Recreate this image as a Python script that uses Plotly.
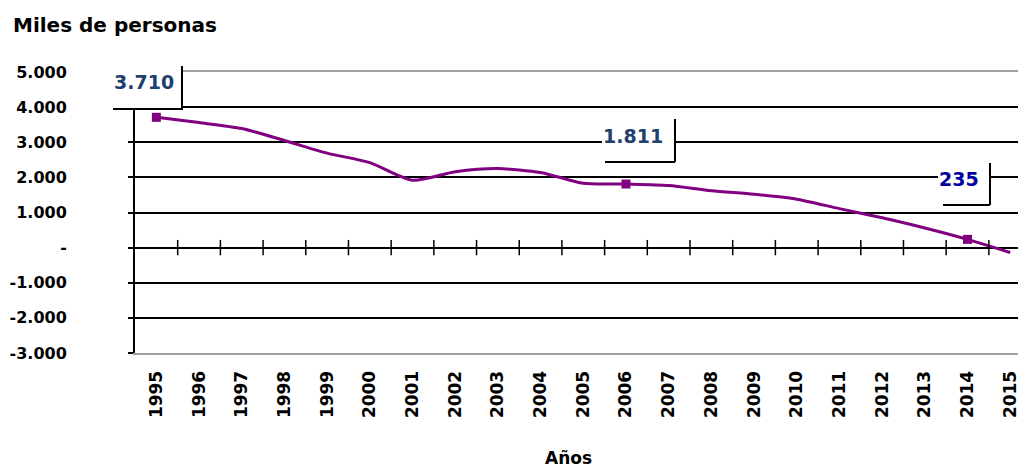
import plotly.graph_objects as go

# datos (miles de personas)
anios = [str(a) for a in range(1995, 2016)]
valores = [3710, 3560, 3390, 3050, 2690, 2420, 1920, 2160, 2250, 2140, 1830,
           1811, 1770, 1620, 1520, 1380, 1110, 850, 560, 235, -140]
etiquetas_idx = [0, 11, 19]
etiquetas_txt = ["3.710", "1.811", "235"]
etiquetas_color = ["#1F3F6F", "#1F3F6F", "#0000A0"]
y_ticks = [-3000, -2000, -1000, 0, 1000, 2000, 3000, 4000, 5000]
y_ticktext = ["-3.000", "-2.000", "-1.000", "-", "1.000", "2.000", "3.000", "4.000", "5.000"]

FONT = "DejaVu Sans"
morado = "#800080"
x = list(range(len(anios)))

# la pagina tiene 8px de margen en el body: se compensa en el tamaño
W, H = 1018, 465

fig = go.Figure()

# linea suavizada
fig.add_trace(go.Scatter(
    x=x, y=valores, mode="lines",
    line=dict(color=morado, width=3, shape="spline", smoothing=0.7),
    hoverinfo="skip", showlegend=False,
))

# marcadores en los puntos etiquetados
fig.add_trace(go.Scatter(
    x=[x[i] for i in etiquetas_idx], y=[valores[i] for i in etiquetas_idx],
    mode="markers", marker=dict(symbol="square", size=9, color=morado),
    showlegend=False,
))

# marcas sobre el eje cero, entre categorias
fig.add_trace(go.Scatter(
    x=[k + 0.5 for k in range(len(anios) - 1)], y=[0] * (len(anios) - 1),
    mode="markers",
    marker=dict(symbol="line-ns", size=11, line=dict(width=1.5, color="black")),
    hoverinfo="skip", showlegend=False,
))

# cajas de etiquetas: (dx, dy, ancho, alto) caja, texto, borde derecho, borde inferior
cajas = [
    dict(box=(-8, 29.5, 68, 43), txt=(-12, 35), der=(26, 29.5, 43), inf=(-8, 8, 70)),
    dict(box=(12.5, 43.5, 73, 43), txt=(7, 48), der=(49, 43.5, 43), inf=(14, 22, 70)),
    dict(box=(-4, 55, 52, 42), txt=(-9, 60), der=(22, 55, 42), inf=(-1.5, 34, 47)),
]

anotaciones = []
for i, t, c, cj in zip(etiquetas_idx, etiquetas_txt, etiquetas_color, cajas):
    px_, py_ = x[i], valores[i]
    bx, by, bw, bh = cj["box"]
    anotaciones.append(dict(x=px_, y=py_, xref="x", yref="y", text=" ", showarrow=False,
                            xshift=bx, yshift=by, width=bw, height=bh, bgcolor="white",
                            borderpad=0, borderwidth=0, font=dict(size=2)))
    tx, ty = cj["txt"]
    anotaciones.append(dict(x=px_, y=py_, xref="x", yref="y", text="<b>%s</b>" % t,
                            showarrow=False, xshift=tx, yshift=ty,
                            font=dict(family=FONT, size=19, color=c)))
    rx, ry, rh = cj["der"]
    anotaciones.append(dict(x=px_, y=py_, xref="x", yref="y", text=" ", showarrow=False,
                            xshift=rx, yshift=ry, width=2, height=rh, bgcolor="black",
                            borderpad=0, borderwidth=0, font=dict(size=2)))
    ix, iy, iw = cj["inf"]
    anotaciones.append(dict(x=px_, y=py_, xref="x", yref="y", text=" ", showarrow=False,
                            xshift=ix, yshift=iy, width=iw, height=2, bgcolor="black",
                            borderpad=0, borderwidth=0, font=dict(size=2)))

anotaciones.append(dict(x=0.487, y=-0.375, xref="paper", yref="paper", text="<b>Años</b>",
                        xanchor="center", yanchor="middle", showarrow=False,
                        font=dict(family=FONT, size=17, color="black")))

fig.update_layout(
    width=W, height=H,
    margin=dict(l=127, r=0, t=64, b=120),
    paper_bgcolor="white", plot_bgcolor="white",
    title=dict(text="<b>Miles de personas</b>", xref="container", yref="container",
               x=5 / W, xanchor="left", y=1 - 17 / H, yanchor="middle",
               font=dict(family=FONT, size=20, color="black")),
    annotations=anotaciones,
    showlegend=False,
)

fig.update_xaxes(
    range=[-0.5, 20.37], tickmode="array", tickvals=x, ticktext=["<b>%s</b>" % a for a in anios],
    tickangle=-90, ticks="", showgrid=False, zeroline=False,
    showline=True, linecolor="#A0A0A0", linewidth=2, mirror=True,
    ticklabelstandoff=9, tickfont=dict(family=FONT, size=17, color="black"),
)

fig.update_yaxes(
    range=[-3000, 5000], tickmode="array", tickvals=y_ticks,
    ticktext=["<b>%s</b>" % t for t in y_ticktext],
    showgrid=True, gridcolor="black", gridwidth=1.5,
    zeroline=True, zerolinecolor="black", zerolinewidth=2,
    showline=True, linecolor="black", linewidth=2,
    ticks="outside", ticklen=5, tickcolor="black", tickwidth=1.5,
    ticklabelstandoff=58, tickfont=dict(family=FONT, size=16, color="black"),
)

fig.write_html("out.html")
